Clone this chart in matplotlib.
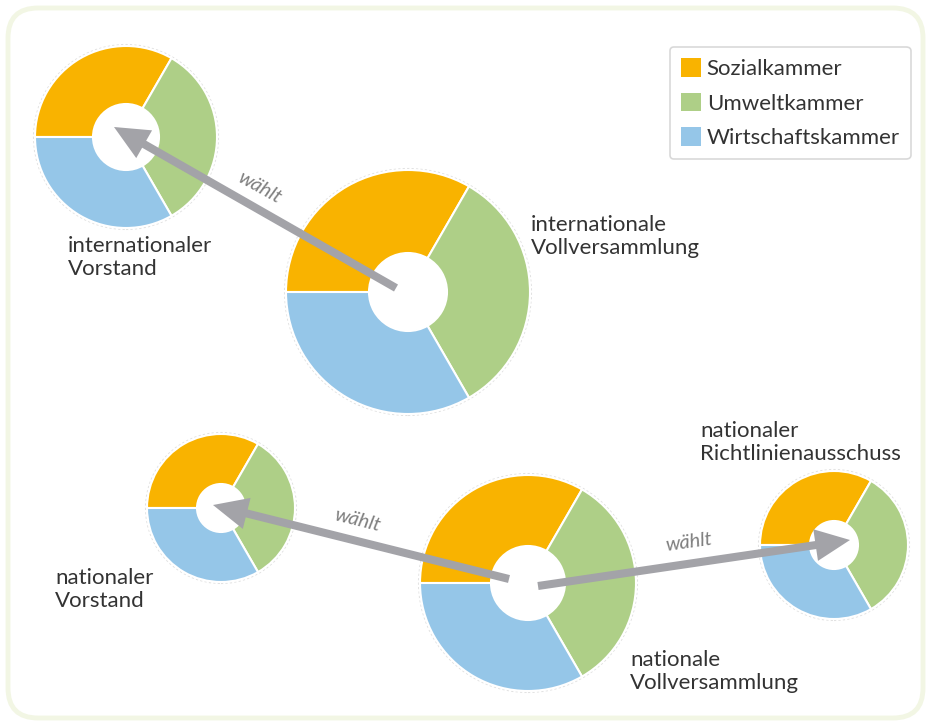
import matplotlib
matplotlib.use("Agg")
import matplotlib.pyplot as plt
from matplotlib.patches import FancyBboxPatch, Patch, Circle

plt.rcParams['font.family'] = ['Lato', 'DejaVu Sans']

# --- data ---
kammern = ['Sozialkammer', 'Umweltkammer', 'Wirtschaftskammer']
anteile = [1, 1, 1]
farben = ['#F9B300', '#AECF87', '#95C6E8']
gremien = ['internationaler\nVorstand', 'internationale\nVollversammlung',
           'nationaler\nVorstand', 'nationale\nVollversammlung',
           'nationaler\nRichtlinienausschuss']
pfeil_text = 'wählt'

W, H = 931, 728
fig = plt.figure(figsize=(W / 100, H / 100), dpi=100)
fig.patch.set_facecolor('white')

ax = fig.add_axes([0, 0, 1, 1])
ax.patch.set_alpha(0)

def Y(py):
    return H - py

# rounded background frame
frame = FancyBboxPatch((8, 10), W - 16, H - 18,
                       boxstyle="round,pad=0,rounding_size=30",
                       facecolor='white', edgecolor='#F2F6E4', linewidth=3.5, zorder=0)
ax.add_patch(frame)

# donut geometry (pixel coords): cx, cy, outer r, inner r
donuts = [
    (126, 137, 91, 33),
    (408, 292, 122, 39),
    (221, 508, 74, 24),
    (528, 583, 108, 37),
    (834, 545, 74, 24),
]
for cx, cy, r, rin in donuts:
    ax.add_patch(Circle((cx, Y(cy)), r + 1.5, facecolor='none',
                        edgecolor='#E2E2E2', linewidth=0.8, linestyle=(0, (2, 2)), zorder=1))
    ax.pie(anteile, colors=farben, center=(cx, Y(cy)), radius=r,
           startangle=180, counterclock=False,
           wedgeprops=dict(width=r - rin, edgecolor='white', linewidth=1.5))

# arrows (tail -> tip), pixel coords
arrows = [((396, 288), (114, 127)),
          ((509, 579), (213, 505)),
          ((538, 586), (850, 540))]
for (x0, y0), (x1, y1) in arrows:
    ax.annotate('', xy=(x1, Y(y1)), xytext=(x0, Y(y0)),
                arrowprops=dict(arrowstyle='simple,head_length=1.25,head_width=1.15,tail_width=0.29',
                                mutation_scale=20, facecolor='#A3A3A8', edgecolor='none',
                                shrinkA=0, shrinkB=0), zorder=5)

# "wählt" labels
for (x, y, rot) in [(259, 188, -29), (357, 520, -14), (689, 542, 8)]:
    ax.text(x, Y(y), pfeil_text, rotation=rot, rotation_mode='anchor',
            ha='center', va='center', fontsize=14.5, style='italic', color='#7F7F7F')

# group labels (left x, top y)
label_pos = [(68, 236), (531, 215), (55, 568), (630, 650), (700, 421)]
for (x, y), txt in zip(label_pos, gremien):
    ax.text(x, Y(y), txt, ha='left', va='top', fontsize=16, color='#333333',
            linespacing=1.18)

ax.set_aspect('equal')
ax.set_xlim(0, W)
ax.set_ylim(0, H)
ax.axis('off')

handles = [Patch(facecolor=c, edgecolor='none') for c in farben]
leg = ax.legend(handles, kammern, loc='upper left',
                bbox_to_anchor=(670 / W, 1 - 47 / H), bbox_transform=fig.transFigure,
                frameon=True, fancybox=True, fontsize=16, handlelength=0.9,
                handleheight=0.9, handletextpad=0.25, labelspacing=0.62,
                borderpad=0.5, borderaxespad=0)
leg.get_frame().set_edgecolor('#CFCFCF')
leg.get_frame().set_linewidth(1.2)
for t in leg.get_texts():
    t.set_color('#333333')

fig.savefig('out.png', dpi=100, facecolor='white')
